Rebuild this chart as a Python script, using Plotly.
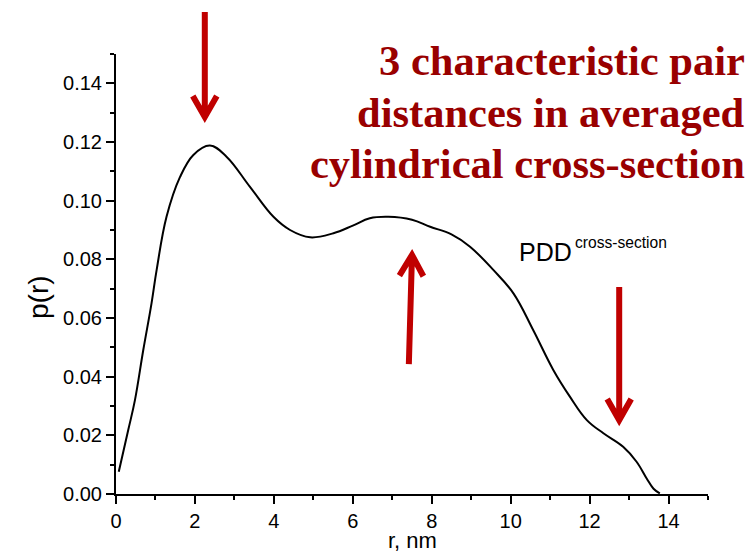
import plotly.graph_objects as go

# ---- data ----
r_nm = [0.07, 0.31, 0.48, 0.69, 0.90, 1.03, 1.28, 1.62, 1.96, 2.38, 2.80, 3.39, 3.99,
        4.41, 4.92, 5.51, 6.00, 6.43, 6.90, 7.50, 7.96, 8.50, 8.97, 9.56, 10.07, 10.57,
        11.08, 11.50, 11.93, 12.35, 12.85, 13.19, 13.45, 13.62, 13.78]
p_r = [0.0076, 0.0218, 0.0320, 0.0490, 0.0650, 0.0764, 0.0945, 0.1080, 0.1156, 0.1188,
       0.1150, 0.1048, 0.0945, 0.0900, 0.0875, 0.0889, 0.0915, 0.0940, 0.0945, 0.0935,
       0.0911, 0.0885, 0.0843, 0.0764, 0.0684, 0.0559, 0.0423, 0.0332, 0.0252, 0.0207,
       0.0161, 0.0110, 0.0052, 0.0018, 0.0002]

x_ticks = [0, 2, 4, 6, 8, 10, 12, 14]
y_ticks = [0.00, 0.02, 0.04, 0.06, 0.08, 0.10, 0.12, 0.14]

# arrows (data units): tail -> tip
arrow_x_tail = [2.25, 7.42, 12.75]
arrow_y_tail = [0.1643, 0.0443, 0.0706]
arrow_x_tip = [2.25, 7.50, 12.75]
arrow_y_tip = [0.1285, 0.0815, 0.0252]

title_lines = ["3 characteristic pair", "distances in averaged", "cylindrical cross-section"]

X_RANGE = [0, 15]
Y_RANGE = [0, 0.15]
W, H = 755, 553
L, R, T, B = 116, 47, 54, 59
PW, PH = W - L - R, H - T - B

RED_ARROW = "#C00000"
RED_TEXT = "#990000"

fig = go.Figure()
fig.add_trace(go.Scatter(x=r_nm, y=p_r, mode="lines",
                         line=dict(color="black", width=2, shape="spline", smoothing=1.1),
                         showlegend=False, hoverinfo="skip"))


def to_paper(x, y):
    return ((x - X_RANGE[0]) / (X_RANGE[1] - X_RANGE[0]), (y - Y_RANGE[0]) / (Y_RANGE[1] - Y_RANGE[0]))


shapes = []
HEAD_HW, HEAD_LEN = 12, 21  # pixels
for xt, yt, xh, yh in zip(arrow_x_tail, arrow_y_tail, arrow_x_tip, arrow_y_tip):
    tx, ty = to_paper(xt, yt)
    hx, hy = to_paper(xh, yh)
    dxp, dyp = (hx - tx) * PW, (hy - ty) * PH
    ln = (dxp ** 2 + dyp ** 2) ** 0.5
    ux, uy = dxp / ln, dyp / ln
    nx, ny = -uy, ux
    bx, by = -ux * HEAD_LEN, -uy * HEAD_LEN
    p1 = (hx + (bx + nx * HEAD_HW) / PW, hy + (by + ny * HEAD_HW) / PH)
    p2 = (hx + (bx - nx * HEAD_HW) / PW, hy + (by - ny * HEAD_HW) / PH)
    path = f"M{tx},{ty} L{hx},{hy} M{p1[0]},{p1[1]} L{hx},{hy} L{p2[0]},{p2[1]}"
    shapes.append(dict(type="path", xref="paper", yref="paper", path=path,
                       line=dict(color=RED_ARROW, width=6)))

annotations = []
line_mid_px = [60, 113, 163]
for txt, ym in zip(title_lines, line_mid_px):
    annotations.append(dict(xref="paper", yref="paper", x=(747 - L) / PW, y=(H - B - ym) / PH,
                            xanchor="right", yanchor="middle", showarrow=False, text=f"<b>{txt}</b>",
                            font=dict(family="Liberation Serif", size=42.5, color=RED_TEXT)))
annotations.append(dict(xref="paper", yref="paper", x=(517 - L) / PW, y=(H - B - 252) / PH,
                        xanchor="left", yanchor="middle", showarrow=False, text="PDD",
                        font=dict(family="Liberation Sans", size=25, color="black")))
annotations.append(dict(xref="paper", yref="paper", x=(573 - L) / PW, y=(H - B - 242.5) / PH,
                        xanchor="left", yanchor="middle", showarrow=False, text="cross-section",
                        font=dict(family="Liberation Sans", size=15.6, color="black")))
annotations.append(dict(xref="paper", yref="paper", x=(38 - L) / PW, y=(H - B - 297) / PH,
                        xanchor="center", yanchor="middle", showarrow=False, text="p(r)", textangle=-90,
                        font=dict(family="Liberation Sans", size=28, color="black")))
annotations.append(dict(xref="paper", yref="paper", x=(412 - L) / PW, y=(H - B - 540) / PH,
                        xanchor="center", yanchor="middle", showarrow=False, text="r, nm",
                        font=dict(family="Liberation Sans", size=22, color="black")))

axis_common = dict(showline=True, linecolor="black", linewidth=2, showgrid=False, zeroline=False,
                   ticks="outside", ticklen=8, tickwidth=1.5, tickcolor="black",
                   tickfont=dict(family="Liberation Sans", size=20, color="black"), mirror=False)

fig.update_layout(
    width=W, height=H, margin=dict(l=L, r=R, t=T, b=B, pad=0),
    paper_bgcolor="white", plot_bgcolor="white",
    xaxis=dict(range=X_RANGE, tickvals=x_ticks, ticktext=[str(v) for v in x_ticks],
               minor=dict(dtick=1, tick0=0, ticks="outside", ticklen=4, tickwidth=1.5, tickcolor="black"),
               **axis_common),
    yaxis=dict(range=Y_RANGE, tickvals=y_ticks, ticktext=[f"{v:.2f}" for v in y_ticks],
               minor=dict(dtick=0.01, tick0=0, ticks="outside", ticklen=4, tickwidth=1.5, tickcolor="black"),
               **axis_common),
    shapes=shapes, annotations=annotations,
)

fig.write_html("out.html")
